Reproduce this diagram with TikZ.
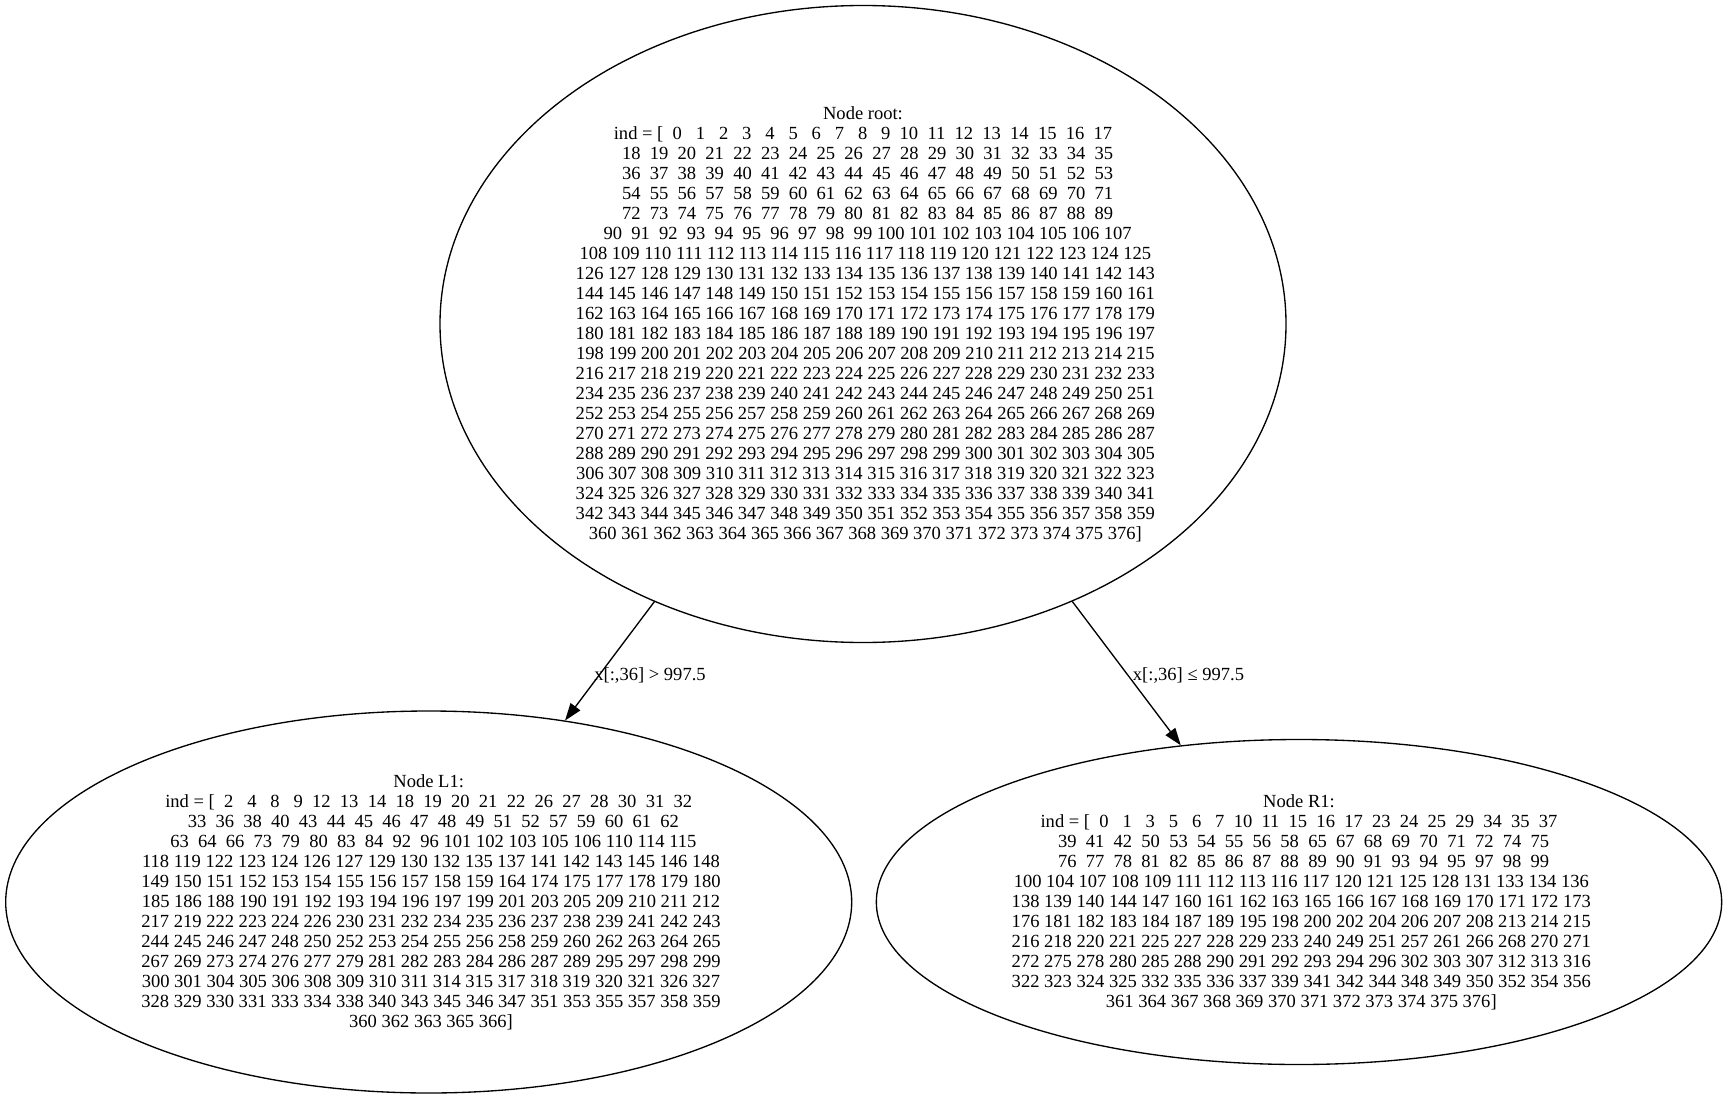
\documentclass[tikz,border=0pt]{standalone}
\usepackage{fontspec}
\setmainfont{Liberation Serif}
\usetikzlibrary{shapes.geometric,arrows.meta}
\newcommand*{\pad}{\hbox{\ }}
\newcommand*{\unpad}{\hskip-\fontdimen2\font}
\newcommand*{\ix}[1]{% #1 = one index, padded to three places
\pad\ifnum#1<100 \pad\fi\ifnum#1<10 \pad\fi#1%
}
\newcommand*{\IndList}[1]{% #1 = list of indices
\foreach \idx in {#1} {\ix{\idx}}%
}
\newcommand*{\IndRange}[2]{% #1 = first, #2 = last
\foreach \idx in {#1,...,#2} {\ix{\idx}}%
}
\tikzset{
  treenode/.style={ellipse, draw, line width=1pt, inner sep=0pt},
  indtext/.style={align=center, font=\fontsize{13.9}{15}\selectfont},
  splitlabel/.style={font=\fontsize{13.9}{15}\selectfont},
  split/.style={-{Triangle[length=13pt,width=9pt]}, line width=1pt},
}
\begin{document}
\begin{tikzpicture}[x=0.75pt,y=-0.75pt]
\useasboundingbox (0,0) rectangle (1728,1099);

\node[treenode, minimum width=634.5pt, minimum height=477.75pt] (root) at (863,324) {};
\node[treenode, minimum width=634.5pt, minimum height=286.5pt] (L1) at (428.7,902) {};
\node[treenode, minimum width=634pt, minimum height=243.75pt] (R1) at (1299,902) {};

\node[indtext] (root text) at (root.center) {Node root:\\
ind = [\unpad\IndRange{0}{17}\\
\IndRange{18}{35}\\ \IndRange{36}{53}\\ \IndRange{54}{71}\\
\IndRange{72}{89}\\ \IndRange{90}{107}\\ \IndRange{108}{125}\\
\IndRange{126}{143}\\ \IndRange{144}{161}\\ \IndRange{162}{179}\\
\IndRange{180}{197}\\ \IndRange{198}{215}\\ \IndRange{216}{233}\\
\IndRange{234}{251}\\ \IndRange{252}{269}\\ \IndRange{270}{287}\\
\IndRange{288}{305}\\ \IndRange{306}{323}\\ \IndRange{324}{341}\\
\IndRange{342}{359}\\ \IndRange{360}{376}]};

\node[indtext] (L1 text) at (L1.center) {Node L1:\\
ind = [\unpad\IndList{2,4,8,9,12,13,14,18,19,20,21,22,26,27,28,30,31,32}\\
\IndList{33,36,38,40,43,44,45,46,47,48,49,51,52,57,59,60,61,62}\\
\IndList{63,64,66,73,79,80,83,84,92,96,101,102,103,105,106,110,114,115}\\
\IndList{118,119,122,123,124,126,127,129,130,132,135,137,141,142,143,145,146,148}\\
\IndList{149,150,151,152,153,154,155,156,157,158,159,164,174,175,177,178,179,180}\\
\IndList{185,186,188,190,191,192,193,194,196,197,199,201,203,205,209,210,211,212}\\
\IndList{217,219,222,223,224,226,230,231,232,234,235,236,237,238,239,241,242,243}\\
\IndList{244,245,246,247,248,250,252,253,254,255,256,258,259,260,262,263,264,265}\\
\IndList{267,269,273,274,276,277,279,281,282,283,284,286,287,289,295,297,298,299}\\
\IndList{300,301,304,305,306,308,309,310,311,314,315,317,318,319,320,321,326,327}\\
\IndList{328,329,330,331,333,334,338,340,343,345,346,347,351,353,355,357,358,359}\\
\IndList{360,362,363,365,366}]};

\node[indtext] (R1 text) at (R1.center) {Node R1:\\
ind = [\unpad\IndList{0,1,3,5,6,7,10,11,15,16,17,23,24,25,29,34,35,37}\\
\IndList{39,41,42,50,53,54,55,56,58,65,67,68,69,70,71,72,74,75}\\
\IndList{76,77,78,81,82,85,86,87,88,89,90,91,93,94,95,97,98,99}\\
\IndList{100,104,107,108,109,111,112,113,116,117,120,121,125,128,131,133,134,136}\\
\IndList{138,139,140,144,147,160,161,162,163,165,166,167,168,169,170,171,172,173}\\
\IndList{176,181,182,183,184,187,189,195,198,200,202,204,206,207,208,213,214,215}\\
\IndList{216,218,220,221,225,227,228,229,233,240,249,251,257,261,266,268,270,271}\\
\IndList{272,275,278,280,285,288,290,291,292,293,294,296,302,303,307,312,313,316}\\
\IndList{322,323,324,325,332,335,336,337,339,341,342,344,348,349,350,352,354,356}\\
\IndList{361,364,367,368,369,370,371,372,373,374,375,376}]};

\draw[split] (root) -- (L1);
\draw[split] (root) -- (R1);
\node[splitlabel] (left split) at (650,675.5) {x[:,36] > 997.5};
\node[splitlabel] (right split) at (1188.5,675.5) {x[:,36] ≤ 997.5};

\end{tikzpicture}
\end{document}
